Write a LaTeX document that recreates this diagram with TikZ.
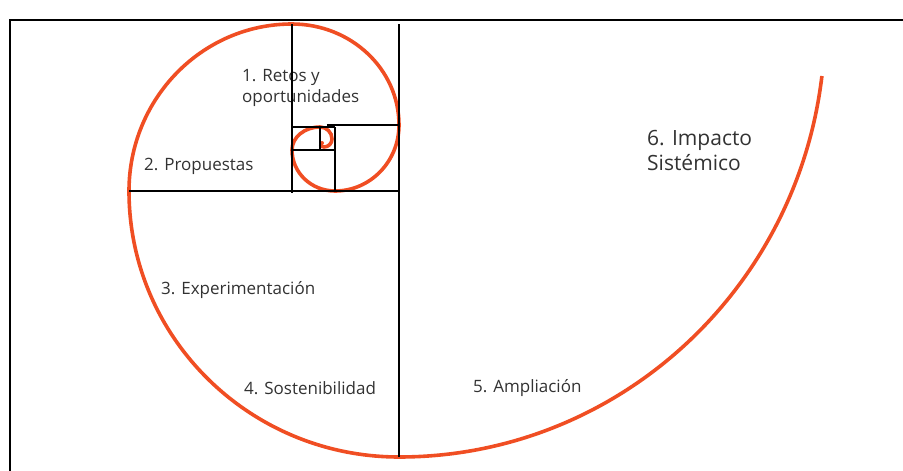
\documentclass[tikz,border=0pt]{standalone}
\usepackage{fontspec}
\setmainfont{Open Sans}
\definecolor{rojo}{RGB}{240,78,35}
\definecolor{texto}{RGB}{50,50,50}
\tikzset{
  marco/.style={line width=2pt},
  linea/.style={line width=2.6pt},
  espiral/.style={rojo, line width=3.6pt},
  etapa/.style={texto, anchor=west, inner sep=0pt, align=left,
    font=\fontsize{17}{21}\selectfont},
  impacto/.style={etapa, font=\fontsize{21}{25}\selectfont}
}
\begin{document}
\begin{tikzpicture}[x=1pt, y=-1pt]
	\useasboundingbox (0, 0) rectangle (903, 471);
	\draw[marco] (10, 471) -- (10, 20) -- (903, 20);
	% etapas
	\node[etapa] (retos) at (242, 88) {1. Retos y\\oportunidades};
	\node[etapa] (propuestas) at (144, 166) {2. Propuestas};
	\node[etapa] (experimentacion) at (161, 290) {3. Experimentación};
	\node[etapa] (sostenibilidad) at (244, 388) {4. Sostenibilidad};
	\node[etapa] (ampliacion) at (473, 388) {5. Ampliación};
	\node[impacto] (sistemico) at (647, 150) {6. Impacto\\Sistémico};
	% espiral
	\draw[espiral] (399, 457)
		arc[start angle=-90, end angle=-180, x radius=270pt, y radius=266pt]
		arc[start angle=180, end angle=90, x radius=163pt, y radius=167pt]
		arc[start angle=90, end angle=0, x radius=107pt, y radius=101pt]
		arc[start angle=0, end angle=-90, x radius=64pt, y radius=66pt]
		arc[start angle=-90, end angle=-180, x radius=43pt, y radius=41pt]
		arc[start angle=180, end angle=90, x radius=28pt, y radius=23pt]
		arc[start angle=90, end angle=0, radius=12pt]
		arc[start angle=0, end angle=-90, radius=8pt]
		arc[start angle=-90, end angle=-160, radius=4pt];
	\draw[espiral] (399, 457)
		arc[start angle=-90, end angle=-6.9, x radius=426pt, y radius=433pt];
	\fill[rojo] (322, 143) circle (2pt);
	% cuadrados
	\draw[linea] (399, 24) -- (399, 457);
	\draw[linea] (292, 24) -- (292, 193);
	\draw[linea] (129, 191) -- (399, 191);
	\draw[linea] (327, 125) -- (399, 125);
	\draw[linea] (292, 127) -- (335, 127);
	\draw[linea] (335, 127) -- (335, 191);
	\draw[linea] (292, 150) -- (335, 150);
	\draw[linea] (320, 127) -- (320, 150);
\end{tikzpicture}
\end{document}
